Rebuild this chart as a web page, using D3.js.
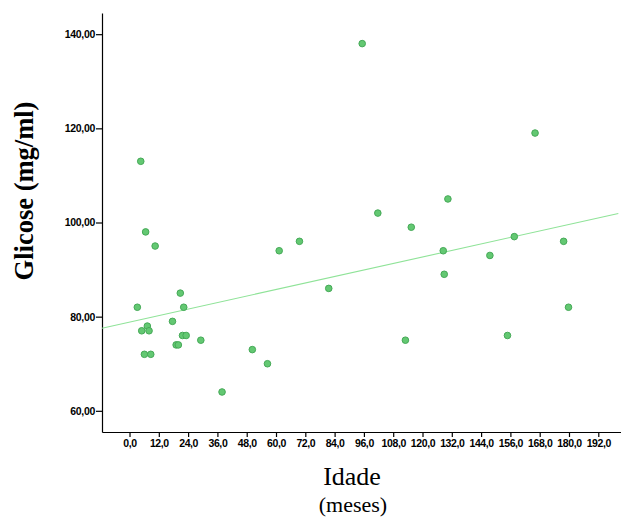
<!DOCTYPE html>
<html>
<head>
<meta charset="utf-8">
<script src="https://cdn.jsdelivr.net/npm/d3@7"></script>
<style>
  html, body { margin: 0; padding: 0; background: #fff; }
  svg { display: block; }
  .tick text { font-family: "Liberation Sans", Arial, sans-serif; font-weight: bold; font-size: 10.5px; fill: #000; }
</style>
</head>
<body>
<svg id="chart" width="621" height="517"></svg>
<script>
// Age in months and blood glucose (mg/ml) per subject
const ages = [3.2, 4.6, 6.6, 10.5, 5.0, 7.3, 8.0, 6.1, 8.7, 17.6, 20.8, 22.2, 19.1, 20.0, 21.7, 23.2,
              29.2, 37.9, 50.3, 56.5, 61.3, 69.6, 81.6, 95.3, 101.7, 113.0, 115.4, 130.4, 128.5, 128.9,
              147.6, 157.6, 154.8, 166.1, 177.8, 179.8];
const glucose = [82, 113, 98, 95, 77, 78, 77, 72, 72, 79, 85, 82, 74, 74, 76, 76,
                 75, 64, 73, 70, 94, 96, 86, 138, 102, 75, 99, 105, 94, 89,
                 93, 97, 76, 119, 96, 82];

// Linear fit line: [intercept, slope]
const fitLine = [78.85, 0.1152];

const xTicks = [0, 12, 24, 36, 48, 60, 72, 84, 96, 108, 120, 132, 144, 156, 168, 180, 192];
const yTicks = [60, 80, 100, 120, 140];

const svg = d3.select("#chart");

const x = d3.scaleLinear().domain([-11.27, 201.3]).range([102, 621]);
const y = d3.scaleLinear().domain([55.5, 144.5]).range([432, 13]);

const locale = d3.formatLocale({ decimal: ",", thousands: ".", grouping: [3], currency: ["", ""] });
const fmtX = locale.format(".1f");
const fmtY = locale.format(".2f");

// Axes
const xAxis = svg.append("g")
  .attr("transform", `translate(0,${y.range()[0]})`)
  .call(d3.axisBottom(x).tickValues(xTicks).tickFormat(fmtX).tickSize(5).tickSizeOuter(0).tickPadding(3));
const yAxis = svg.append("g")
  .attr("transform", `translate(${x.range()[0]},0)`)
  .call(d3.axisLeft(y).tickValues(yTicks).tickFormat(fmtY).tickSize(6).tickSizeOuter(0).tickPadding(1));

[xAxis, yAxis].forEach(g => {
  g.selectAll(".domain").attr("stroke", "#000").attr("stroke-width", 1.2);
  g.selectAll(".tick line").attr("stroke", "#000").attr("stroke-width", 1.2);
});
xAxis.selectAll(".tick text").attr("letter-spacing", "-0.4px");
yAxis.selectAll(".tick text").attr("letter-spacing", "-0.3px");

// Fit line across the x range
const x0 = x.domain()[0], x1 = 200.2;
svg.append("line")
  .attr("x1", x(x0)).attr("y1", y(fitLine[0] + fitLine[1] * x0))
  .attr("x2", x(x1)).attr("y2", y(fitLine[0] + fitLine[1] * x1))
  .attr("stroke", "#8fe398")
  .attr("stroke-width", 1.1);

// Points
svg.append("g").selectAll("circle")
  .data(ages.map((a, i) => [a, glucose[i]]))
  .join("circle")
  .attr("cx", d => x(d[0]))
  .attr("cy", d => y(d[1]))
  .attr("r", 3.3)
  .attr("fill", "#63c872")
  .attr("stroke", "#45a957")
  .attr("stroke-width", 1);

// Axis titles
svg.append("text")
  .attr("transform", "translate(33,191) rotate(-90)")
  .attr("text-anchor", "middle")
  .style("font-family", "'Liberation Serif', 'Times New Roman', serif")
  .style("font-weight", "bold")
  .style("font-size", "26.5px")
  .text("Glicose (mg/ml)");

svg.append("text")
  .attr("x", 352).attr("y", 485)
  .attr("text-anchor", "middle")
  .style("font-family", "'Liberation Serif', 'Times New Roman', serif")
  .style("font-size", "26px")
  .text("Idade");

svg.append("text")
  .attr("x", 353).attr("y", 512)
  .attr("text-anchor", "middle")
  .style("font-family", "'Liberation Serif', 'Times New Roman', serif")
  .style("font-size", "22px")
  .text("(meses)");
</script>
</body>
</html>
